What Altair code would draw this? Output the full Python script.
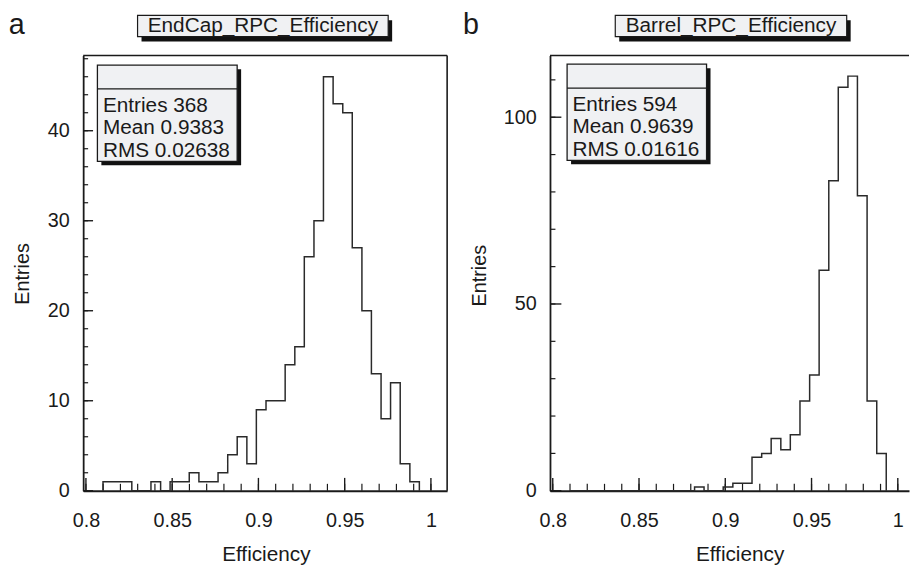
import altair as alt
import pandas as pd

# ---------------- data ----------------
edges = [0.8099, 0.8155, 0.8210, 0.8266, 0.8322, 0.8377, 0.8433, 0.8488, 0.8544, 0.8599,
         0.8655, 0.8711, 0.8766, 0.8822, 0.8877, 0.8933, 0.8988, 0.9044, 0.9100, 0.9155,
         0.9211, 0.9266, 0.9322, 0.9377, 0.9433, 0.9489, 0.9544, 0.9600, 0.9655, 0.9711,
         0.9766, 0.9822, 0.9878, 0.9933]
endcap_counts = [1, 1, 1, 0, 0, 1, 0, 1, 1, 2, 1, 1, 2, 4, 6, 3, 9, 10, 10, 14, 16, 26, 30,
                 46, 43, 42, 27, 20, 13, 8, 12, 3, 1]
barrel_counts = [0, 0, 0, 0, 0, 0, 0, 0, 0, 0, 0, 0, 0, 1, 0, 0, 1, 2, 2, 9, 10, 14, 11,
                 15, 24, 31, 59, 83, 108, 111, 79, 24, 10]

titles = ["EndCap_RPC_Efficiency", "Barrel_RPC_Efficiency"]
letters = ["a", "b"]
entries = ["368", "594"]
means = ["0.9383", "0.9639"]
rms = ["0.02638", "0.01616"]

x_labels = [0.8, 0.85, 0.9, 0.95, 1.0]
x_minor = [0.80, 0.81, 0.82, 0.83, 0.84, 0.85, 0.86, 0.87, 0.88, 0.89, 0.90,
           0.91, 0.92, 0.93, 0.94, 0.95, 0.96, 0.97, 0.98, 0.99, 1.00]
y_labels_a = [0, 10, 20, 30, 40]
y_minor_a = [0, 2, 4, 6, 8, 10, 12, 14, 16, 18, 20, 22, 24, 26, 28, 30, 32, 34, 36, 38,
             40, 42, 44, 46, 48]
y_labels_b = [0, 50, 100]
y_minor_b = [0, 10, 20, 30, 40, 50, 60, 70, 80, 90, 100, 110]

FONT = "Liberation Sans"
INK = "#1a1a1a"
LINE = "#2a2a2a"
BOXFILL = "#f0f1f3"
H = 440


def hist_frame(counts):
    rows = [{"x": edges[0], "y": 0, "i": 0}]
    for k, c in enumerate(counts):
        rows.append({"x": edges[k], "y": c, "i": k + 1})
    rows.append({"x": edges[-1], "y": 0, "i": len(counts) + 1})
    return pd.DataFrame(rows)


def one():
    return alt.Data(values=[{"k": 1}])


def panel(counts, xdom, ymax, W, ylabels, yminor, ymaj, ymin, title, letter, ent, mean, rmsv,
          box, tbox, letter_x, ytx, yty, xtx, right_border):
    X = alt.X("x:Q", scale=alt.Scale(domain=xdom, nice=False, zero=False),
              axis=alt.Axis(values=x_labels, format="~g", ticks=False, tickSize=0, grid=False,
                            labelPadding=20, labelFontSize=20, labelFont=FONT, labelColor=INK,
                            labelFlush=False, labelOverlap=False,
                            domainColor=INK, domainWidth=1.8,
                            title="Efficiency", titleFont=FONT, titleFontSize=21,
                            titleFontWeight="normal", titleColor=INK, titleX=xtx, titleY=71,
                            titleBaseline="alphabetic", titleAlign="center"))
    Y = alt.Y("y:Q", scale=alt.Scale(domain=[0, ymax], nice=False, zero=True),
              axis=alt.Axis(values=ylabels, format="d", ticks=False, tickSize=0, grid=False,
                            labelPadding=14, labelFontSize=20, labelFont=FONT, labelColor=INK,
                            labelFlush=False, labelOverlap=False,
                            domainColor=INK, domainWidth=1.8,
                            title="Entries", titleFont=FONT, titleFontSize=20,
                            titleFontWeight="normal", titleColor=INK, titleAngle=270,
                            titleX=ytx, titleY=yty, titleBaseline="alphabetic",
                            titleAlign="center"))

    hist = alt.Chart(hist_frame(counts)).mark_line(
        interpolate="step-after", color=LINE, strokeWidth=1.5
    ).encode(x=X, y=Y, order="i:Q")

    xmin_t = alt.Chart(pd.DataFrame({"x": x_minor})).mark_rule(color=INK, strokeWidth=1.2).encode(
        x=X, y=alt.value(H), y2=alt.value(H - 7))
    xmaj_t = alt.Chart(pd.DataFrame({"x": x_labels})).mark_rule(color=INK, strokeWidth=1.4).encode(
        x=X, y=alt.value(H), y2=alt.value(H - 13))
    ymin_t = alt.Chart(pd.DataFrame({"y": yminor})).mark_rule(color=INK, strokeWidth=1.2).encode(
        y=Y, x=alt.value(0), x2=alt.value(ymin))
    ymaj_t = alt.Chart(pd.DataFrame({"y": ylabels})).mark_rule(color=INK, strokeWidth=1.4).encode(
        y=Y, x=alt.value(0), x2=alt.value(ymaj))

    layers = [xmin_t, xmaj_t, ymin_t, ymaj_t, hist]

    top = alt.Chart(one()).mark_rule(color=INK, strokeWidth=1.6).encode(
        x=alt.value(0), x2=alt.value(W), y=alt.value(0))
    layers.append(top)
    if right_border:
        rb = alt.Chart(one()).mark_rule(color=INK, strokeWidth=1.6).encode(
            x=alt.value(W), y=alt.value(0), y2=alt.value(H))
        layers.append(rb)

    bx0, bx1, by0, by1, bdiv, tx, tb = box
    sh = alt.Chart(one()).mark_rect(fill="#111111").encode(
        x=alt.value(bx0 + 4), x2=alt.value(bx1 + 4), y=alt.value(by0 + 4), y2=alt.value(by1 + 4))
    bx = alt.Chart(one()).mark_rect(fill=BOXFILL, stroke=INK, strokeWidth=1.3).encode(
        x=alt.value(bx0), x2=alt.value(bx1), y=alt.value(by0), y2=alt.value(by1))
    dv = alt.Chart(one()).mark_rule(color=INK, strokeWidth=1.3).encode(
        x=alt.value(bx0), x2=alt.value(bx1), y=alt.value(bdiv))
    layers += [sh, bx, dv]
    for j, s in enumerate(["Entries " + ent, "Mean " + mean, "RMS " + rmsv]):
        layers.append(alt.Chart(one()).mark_text(
            font=FONT, fontSize=21, color=INK, align="left", baseline="alphabetic"
        ).encode(x=alt.value(tx), y=alt.value(tb + 22.6 * j), text=alt.value(s)))

    tx0, tx1, ty0, ty1, tcx, tby = tbox
    tsh = alt.Chart(one()).mark_rect(fill="#111111").encode(
        x=alt.value(tx0 + 4), x2=alt.value(tx1 + 4), y=alt.value(ty0 + 5), y2=alt.value(ty1 + 5))
    tbx = alt.Chart(one()).mark_rect(fill=BOXFILL, stroke=INK, strokeWidth=1.2).encode(
        x=alt.value(tx0), x2=alt.value(tx1), y=alt.value(ty0), y2=alt.value(ty1))
    ttx = alt.Chart(one()).mark_text(
        font=FONT, fontSize=21, color=INK, align="center", baseline="alphabetic"
    ).encode(x=alt.value(tcx), y=alt.value(tby), text=alt.value(title))
    lt = alt.Chart(one()).mark_text(
        font=FONT, fontSize=29, color=INK, align="left", baseline="alphabetic"
    ).encode(x=alt.value(letter_x), y=alt.value(-22.0), text=alt.value(letter))
    layers += [tsh, tbx, ttx, lt]

    return alt.layer(*layers).properties(width=W, height=H)


left = panel(endcap_counts, [0.7984, 1.0094], 48.35, 368, y_labels_a, y_minor_a, 10, 5,
             titles[0], letters[0], entries[0], means[0], rms[0],
             (14.4, 155.7, 9.7, 107, 33.7, 20, 57),
             (55, 308.4, -40.7, -19.2, 181.7, -23.6),
             -75.3, -55, 220.3, 184.7, True)
right = panel(barrel_counts, [0.7984, 1.0065], 116.5, 363, y_labels_b, y_minor_b, 11.5, 5.5,
              titles[1], letters[1], entries[1], means[1], rms[1],
              (17.3, 158.3, 8.7, 106, 33, 22.7, 56),
              (66, 300, -40.7, -19.2, 183, -23.6),
              -88, -65, 222, 191.7, False)

chart = alt.hconcat(left, right, spacing=15).properties(
    padding={"left": 0, "right": 0, "top": 0, "bottom": 0},
    background="white",
).configure_view(stroke=None)

chart.save("out.html", embed_options={"renderer": "svg", "actions": False})
